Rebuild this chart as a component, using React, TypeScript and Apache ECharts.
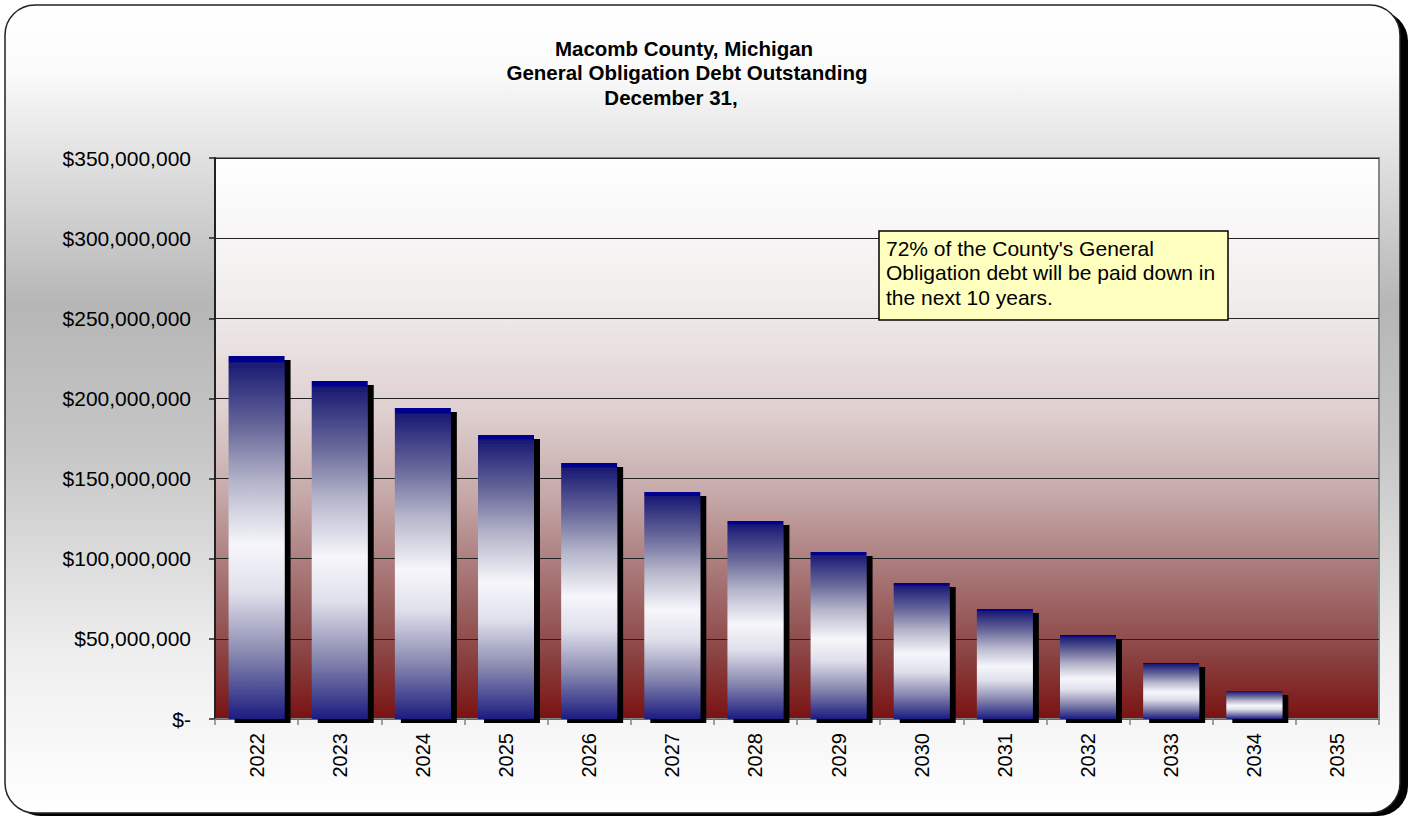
import React, { useEffect, useRef } from "react";
import * as echarts from "echarts";

const years = ["2022", "2023", "2024", "2025", "2026", "2027", "2028", "2029", "2030", "2031", "2032", "2033", "2034", "2035"];
const debtOutstanding = [226500000, 210900000, 194000000, 177200000, 159700000, 141600000, 123500000, 104200000, 84800000, 68600000, 52400000, 34900000, 17500000, 0];
const titleLines = ["Macomb County, Michigan", "General Obligation Debt Outstanding", "December 31,"];
const noteText = "72% of the County's General\nObligation debt will be paid down in\nthe next 10 years.";

const FONT = "Arial, 'Liberation Sans', sans-serif";

function fmt(v: number): string {
  if (v === 0) return "$-";
  return "$" + v.toLocaleString("en-US");
}

export default function App() {
  const ref = useRef<HTMLDivElement>(null);
  useEffect(() => {
    document.body.style.margin = "0";
    if (!ref.current) return;
    const chart = echarts.init(ref.current, null, { renderer: "svg" });
    const barGrad = new echarts.graphic.LinearGradient(0, 0, 0, 1, [
      { offset: 0, color: "#00008f" },
      { offset: 0.014, color: "#00008f" },
      { offset: 0.02, color: "#1a1a74" },
      { offset: 0.2, color: "#6a6a9c" },
      { offset: 0.35, color: "#b6b6cc" },
      { offset: 0.52, color: "#f6f6fb" },
      { offset: 0.65, color: "#e0e0ec" },
      { offset: 0.82, color: "#8888b0" },
      { offset: 1, color: "#1c1c80" },
    ]);
    chart.setOption({
      animation: false,
      graphic: [
        {
          type: "rect",
          z: -20,
          silent: true,
          shape: { x: 11, y: 11, width: 1397, height: 805, r: 30 },
          style: { fill: "#000" },
        },
        {
          type: "rect",
          z: -19,
          silent: true,
          shape: { x: 5, y: 5, width: 1395, height: 808, r: 30 },
          style: {
            fill: new echarts.graphic.LinearGradient(0, 0, 0, 1, [
              { offset: 0, color: "#ffffff" },
              { offset: 0.08, color: "#fbfbfb" },
              { offset: 0.37, color: "#b6b6b6" },
              { offset: 0.55, color: "#c6c6c6" },
              { offset: 0.8, color: "#eeeeee" },
              { offset: 1, color: "#ffffff" },
            ]),
            stroke: "#222",
            lineWidth: 1.5,
          },
        },
        {
          type: "text",
          z: 50,
          style: { text: titleLines[0], x: 684, y: 48, textAlign: "center", textVerticalAlign: "middle", font: `bold 20.5px ${FONT}`, fill: "#000" },
        },
        {
          type: "text",
          z: 50,
          style: { text: titleLines[1], x: 687, y: 72, textAlign: "center", textVerticalAlign: "middle", font: `bold 20.5px ${FONT}`, fill: "#000" },
        },
        {
          type: "text",
          z: 50,
          style: { text: titleLines[2], x: 671, y: 97, textAlign: "center", textVerticalAlign: "middle", font: `bold 20.5px ${FONT}`, fill: "#000" },
        },
        {
          type: "rect",
          z: 50,
          shape: { x: 879, y: 231, width: 349, height: 89 },
          style: { fill: "#ffffc0", stroke: "#000", lineWidth: 1.5 },
        },
        {
          type: "text",
          z: 51,
          style: { text: noteText, x: 886, y: 236, font: `21px ${FONT}`, lineHeight: 24.5, fill: "#000" },
        },
      ],
      grid: {
        left: 215,
        top: 158,
        right: 30,
        bottom: 97,
        show: true,
        borderColor: "#868686",
        borderWidth: 2,
        backgroundColor: new echarts.graphic.LinearGradient(0, 0, 0, 1, [
          { offset: 0, color: "#ffffff" },
          { offset: 0.25, color: "#f1eded" },
          { offset: 0.45, color: "#dfd0d0" },
          { offset: 0.6, color: "#c6a9a9" },
          { offset: 0.75, color: "#a67373" },
          { offset: 0.88, color: "#8c4545" },
          { offset: 1, color: "#7a1212" },
        ]),
      },
      xAxis: {
        type: "category",
        data: years,
        axisLine: { show: true, lineStyle: { color: "#808080", width: 1.5 } },
        axisTick: { show: true, alignWithLabel: false, length: 6, lineStyle: { color: "#808080", width: 1.5 } },
        axisLabel: { rotate: 90, margin: 14, fontSize: 20, fontFamily: FONT, color: "#000" },
        splitLine: { show: false },
      },
      yAxis: {
        type: "value",
        min: 0,
        max: 350000000,
        interval: 50000000,
        axisLine: { show: true, lineStyle: { color: "#222", width: 2 } },
        axisTick: { show: true, length: 6, lineStyle: { color: "#222", width: 1.5 } },
        axisLabel: { margin: 24, fontSize: 21, fontFamily: FONT, color: "#000", formatter: (v: number) => fmt(v) },
        splitLine: { show: true, lineStyle: { color: "#222", width: 1.2 } },
      },
      series: [
        {
          type: "bar",
          data: debtOutstanding,
          barWidth: 56,
          itemStyle: {
            color: barGrad,
            shadowColor: "#000",
            shadowBlur: 0,
            shadowOffsetX: 6,
            shadowOffsetY: 4,
          },
        },
      ],
    });
    return () => chart.dispose();
  }, []);
  return <div ref={ref} style={{ width: 1409, height: 816 }} />;
}
